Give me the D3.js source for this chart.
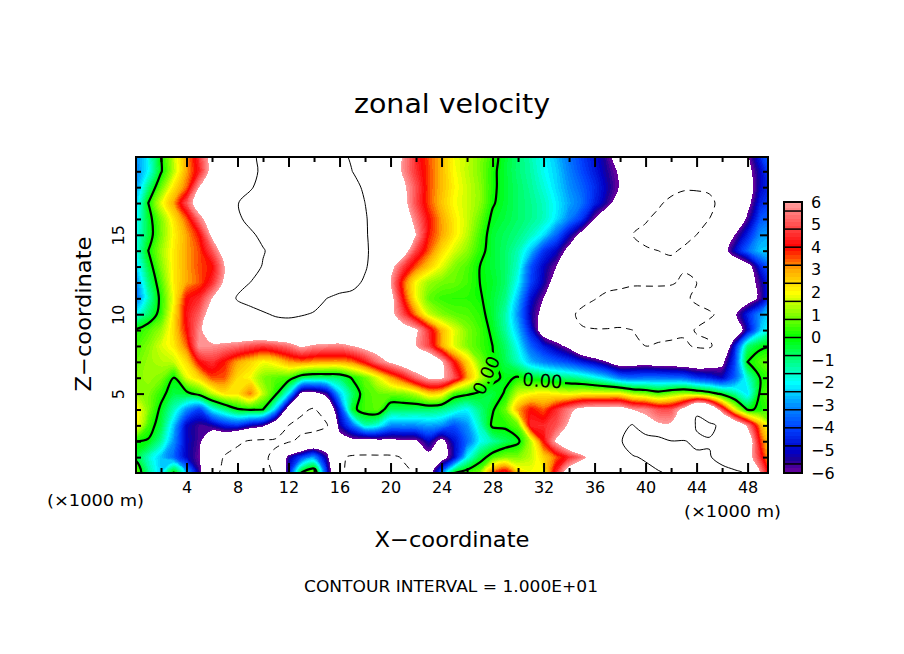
<!DOCTYPE html>
<html>
<head>
	<meta charset="utf-8">
	<title>zonal velocity</title>
	<script src="https://d3js.org/d3.v7.min.js"></script>
	<style>
		html, body { margin: 0; padding: 0; background: #fff; }
		text { font-family: "DejaVu Sans", sans-serif; fill: #000; }
	</style>
</head>
<body>
<script type="text/javascript">

// zonal velocity per height (top row first), one value per km in x from 0 to 50
var z20 = [-3.2,-2,0,1.5,3,4.6,6.6,7.5,8.2,9.5,10.5,11,11.5,12,12,11.5,10.6,9.6,9,8,6.8,5.8,4.4,3.5,2.8,1.9,1.5,1,0.3,-0.4,-0.9,-1.4,-2,-2.6,-3.4,-4.1,-4.8,-5.7,-7,-7.5,-8,-8,-8,-8,-8,-8,-8,-7.5,-6.3,-4.4,-3];
var z19 = [-3.2,-2,-0.1,1.5,3,4.4,6.6,7.6,8.4,9.4,10.4,11.3,12,12.5,12.5,12,11,10,9,8,7,5.8,4.6,3.6,2.8,2,1.5,1,0.2,-0.4,-0.9,-1.3,-1.9,-2.4,-3.2,-3.9,-4.6,-5.4,-6.2,-7.5,-8.2,-8.5,-9,-9,-9,-8.5,-8,-7.5,-6.5,-5,-3.5];
var z18 = [-3,-1,0.8,2.3,3.4,6,7,7.8,8.6,9.7,11,12,13,13.5,13.5,13,12,11,9.5,8.5,7.5,6.3,5,3.6,2.8,2.1,1.6,1.1,0.2,-0.4,-0.8,-1.2,-1.7,-2.3,-3,-3.6,-4.3,-5.2,-6.1,-7.5,-8,-8.5,-9.3,-9.7,-9.7,-9.7,-9,-8,-6.8,-5,-4];
var z17 = [-2.6,0,1.8,3,5,7,8,9,9.9,11,12,13,14,14,14,13.5,12.5,11.5,10,9,8,6.5,4.9,3.6,2.7,2,1.6,1.1,0.1,-0.4,-0.8,-1.1,-1.5,-2.1,-2.8,-3.4,-4.5,-5.5,-7,-8,-9,-9.7,-10.5,-11,-11,-10.4,-9.5,-8.5,-6.5,-4.5,-3.8];
var z16 = [-2.2,-0.4,1,2.3,3.5,5.5,7,8.2,9.5,10.8,12,13,14,14,14,13.5,12.5,11.5,10.2,9,8,7,5.5,4,3,2.2,1.6,0.8,-0.2,-0.5,-0.8,-1.1,-1.5,-2.2,-3.2,-4.2,-6,-7.5,-8.3,-9,-9.8,-10.5,-11,-11,-10.8,-10,-9,-7.8,-5.7,-3.8,-3.5];
var z15 = [-2,-0.5,0.9,2.1,3,4,6.3,7.5,8.5,9.5,10.7,12,13,14,14,13.5,12.5,11.5,10.2,9.2,8.2,7.2,6,3.9,3,2.2,1.5,0.5,-0.4,-0.7,-1,-1.5,-2.2,-3.5,-5,-6.5,-7.5,-8.2,-9,-10,-10.5,-11,-11,-10.7,-10,-9,-8,-6,-4.5,-3,-2.7];
var z14 = [-2,0,1.2,2.2,3,3.6,5,6.8,8,9,9.8,11,12,13,13.5,13,12.5,11.5,10.3,9.2,8.2,6.8,4.8,3.5,2.4,1.7,1.1,0.3,-0.4,-0.8,-1.4,-2.5,-4.2,-5,-6.5,-7.3,-8,-8.5,-9,-9.5,-9.8,-10,-10.3,-9.7,-9,-8,-6.8,-5,-3.5,-2.5,-2.5];
var z13 = [-2.5,-0.5,1,2.2,3,3.6,4,6,7.5,8.7,10.2,11.5,12.5,13,13,12.8,12,11.2,10.3,8.5,6.5,4.8,3.5,2.6,1.8,1,0.6,0,-0.4,-0.8,-1.6,-3.8,-5,-6,-7,-7.5,-8,-8.5,-8.8,-9,-9,-9,-9.3,-9.8,-9.5,-8.5,-8,-7.5,-6.7,-4.5,-3.2];
var z12 = [-3.2,-1,0.6,2.2,3,3.5,4.5,6.3,9,10,10.8,11.5,12,12.5,12.5,12,11.5,10.8,9.6,8,6,3.6,2,1.2,0.9,0.8,0.5,0,-0.3,-0.8,-2,-4,-5.2,-6.7,-7.7,-8.5,-9,-9.3,-9.5,-9.7,-9.7,-9.7,-9.8,-10.3,-10,-9,-8,-7.5,-6.8,-5.5,-3.7];
var z11 = [-3.5,-1.5,0.3,2,4,4.5,6,8,10.3,11,11.5,12,12,11.8,11,10,9.3,9.2,9,8,6.6,4,2,0.8,0.4,0.3,0.3,0.1,-0.4,-1,-2.6,-4.8,-6,-7.5,-8.5,-9.3,-9.9,-10.5,-10.7,-11,-11,-11,-11,-10.3,-9.7,-9,-8.5,-7.8,-6.8,-5.7,-3.5];
var z10 = [-2,-0.8,0.4,2.3,4.2,5.2,6.8,7.6,8.3,9,9.7,10.3,10.5,10.2,9.8,9.5,9,8.7,8.3,7.7,6.5,4.9,3.2,1.6,1,0.7,0.6,0.3,-0.4,-1.3,-3,-5.2,-6.5,-8,-9.5,-10.5,-11,-11,-11,-11,-11,-11,-11,-11,-10.5,-10.3,-9.5,-6.2,-4.5,-3,-2];
var z9 = [0.1,0.6,1.2,2.4,4,5.7,7,7.7,7.8,8,8.3,8.4,8.4,8.3,8.2,8.2,8.2,8,7.8,7.5,7.2,6.8,6.2,4.5,2.8,1.8,1,0.5,-0.2,-1.2,-2.6,-4.6,-7,-7.7,-9,-9.8,-9.9,-9.9,-9.8,-10,-10.5,-10.7,-10.7,-10.4,-9.9,-9.3,-8.5,-7.5,-5,-2.5,-1.4];
var z8 = [0.5,1,1.7,2.2,3.4,5.9,5.8,5.6,5.4,5,4.7,5,5.4,6.2,5.8,5.7,5.6,6,6.5,6.8,7,6.8,6,4.8,3,1.8,1,0.5,0,-0.8,-2,-3.6,-4.6,-5.5,-6.4,-8,-8.7,-9,-9.3,-9.6,-10,-9.8,-9.6,-9.6,-10.3,-10.4,-8.5,-4.6,-0.9,-0.2,-0.1];
var z7 = [0.8,1.2,1.4,1.6,2.4,4.1,4.6,3.9,3,2.5,2,2.3,3,3.3,3.1,3,3,3.3,4.2,5.4,6.2,7,7.5,7.6,6.2,4,2.5,1,0.1,-0.6,-1.5,-2.6,-3.2,-3.6,-4,-4.6,-5.2,-6,-7,-6.8,-6.7,-6.9,-7,-7.1,-7.3,-7,-6.4,-4,0,0.6,0.8];
var z6 = [1,1.2,1,0,1.8,2.5,3.6,3.5,2.4,2,1,0.7,0.5,-0.6,-0.9,-0.9,-0.8,0.1,0.8,1.8,3,4,5.3,6.2,6.2,5,3,1.5,0.3,-0.2,0.1,-0.3,-0.5,-0.8,-1,-1.3,-1.8,-2.4,-3.3,-3.5,-3.4,-3.4,-3.5,-3.6,-4.2,-4.5,-5,-3.6,-1.6,0.05,0.6];
var z5 = [1.2,1,0.3,-0.5,-0.3,0.4,1.5,2.3,2.3,3.3,1.5,0.2,-2,-6.3,-6.5,-5.5,-2.5,-0.8,0.5,0.8,0.9,1,1.5,2.5,2.3,0.5,0.2,-0.2,-0.5,0.1,1.6,2,2.2,2,1.8,2,2,2,2,1.3,1,0.5,1,1.3,1,0.5,-0.3,-1.2,-2.2,0.2,1];
var z4 = [2.2,1,-0.2,-1.5,-3,-4,-2,-1,-0.1,0.1,0,-2.5,-7,-9.5,-10.3,-8,-4.5,-0.3,0.5,0.7,-0.7,-0.7,-0.8,-0.8,-1,-1.5,-2,-1,-0.1,0.8,3,4,3.5,4.5,5.6,6.5,6.8,6.8,6.8,5.9,5.7,5,5,6.5,9.7,8.5,5,2,-0.1,0.1,0.6];
var z3 = [2.2,0.5,-0.5,-2.5,-5,-5.6,-5.3,-4.5,-4.2,-5,-5.6,-7.5,-10,-10.7,-11,-10.3,-5.3,-3.5,-1.4,-1.8,-3,-3,-3,-2.8,-3,-3.8,-3,-1.5,0.2,0.2,0.8,4.5,4.5,5,6.2,8,8.5,9,9.2,10.2,6.6,6.2,6.2,6.1,10.4,10.3,9.7,7.8,5.7,3,1];
var z2 = [0,-0.1,-1.2,-3,-5,-5.7,-7.5,-8,-9.5,-10.3,-10.5,-10.5,-10.3,-9.5,-8.5,-7.5,-7,-6.5,-6.8,-6.5,-6.4,-6.3,-6.2,-5,-6.5,-4.8,-3.5,-2,-1.3,-0.7,-0.2,1.5,4,6.2,8,9,9.2,9.5,9.7,11.5,12.5,11.5,10.1,10.2,9.3,9.9,9.5,8.2,7.3,3.8,1.8];
var z1 = [-0.3,-1.5,-2.5,-3.5,-5,-5.9,-8,-10.3,-11,-11,-10.5,-9.3,-5.5,-4,-3,-5.5,-9.5,-10.4,-10.5,-10.5,-10.5,-9.8,-8,-6.5,-6.8,-5,-2,-0.5,0.5,1,1,1.5,2.5,3.5,4.5,5.5,7,9,9,9.8,10.3,11,11,11,10.6,10.1,9.5,8,6.8,4.5,2];
var z0 = [1,-1.2,-2.5,0.1,-2.5,-5.5,-9,-10.8,-11.5,-11.5,-11,-9.6,-5,0.1,1.2,-4.5,-9.5,-11,-11.5,-11.5,-11.5,-10.5,-9.8,-7,-3.5,0,0.5,1,3.5,4.5,2.5,2,2,4.5,7,8,9,9.5,8.5,8.8,9.3,9.8,10.3,10.5,10.5,10.5,10.5,10.5,9.7,5.8,2.7];

var rows = [z0, z1, z2, z3, z4, z5, z6, z7, z8, z9, z10, z11, z12, z13, z14, z15, z16, z17, z18, z19, z20];

var xMajor = [4, 8, 12, 16, 20, 24, 28, 32, 36, 40, 44, 48];
var xMinor = [2, 6, 10, 14, 18, 22, 26, 30, 34, 38, 42, 46];
var zMajor = [5, 10, 15];
var zMinor = [1, 2, 3, 4, 6, 7, 8, 9, 11, 12, 13, 14, 16, 17, 18, 19];
var barTicks = [-6, -5, -4, -3, -2, -1, 0, 1, 2, 3, 4, 5, 6];

var colorValues = [-6, -5.4, -5, -4, -3, -2, -1, 0, 1, 2, 3, 4, 5, 6];
var colorStops = ["#75009e", "#1c0096", "#0000c8", "#0040ff", "#0090ff", "#00ffff", "#00ff80", "#00ff00", "#80ff00", "#ffff00", "#ffaa00", "#ff0000", "#ff5050", "#ffa0a0"];

var width = 904;
var height = 654;

var xScale = d3.scaleLinear().domain([0, 49.6]).range([135.5, 768]);
var zScale = d3.scaleLinear().domain([0, 19.9]).range([473, 157]);
var color = d3.scaleLinear().domain(colorValues).range(colorStops);
var barScale = d3.scaleLinear().domain([-6, 6]).range([473, 202]);

var nx = rows[0].length;
var nz = rows.length;
var grid = d3.merge(rows);

// rounded outlines: d3.contours puts grid node i at coordinate i + 0.5
var ringLine = d3.line()
	.x(function (p) { return xScale(p[0] - 0.5); })
	.y(function (p) { return zScale(p[1] - 0.5); })
	.curve(d3.curveCatmullRomClosed.alpha(0.5));

function path(d) {
	return d.coordinates.map(function (polygon) {
		return polygon.map(function (ring) { return ringLine(ring.slice(0, -1)); }).join("");
	}).join("");
}

var levels = [-6].concat(d3.range(-37, 38).map(function (i) { return i * 0.16; }));

var svg = d3.select("body").append("svg")
	.attr("width", width)
	.attr("height", height)
	.style("display", "block");

svg.append("defs").append("clipPath").attr("id", "plot")
	.append("rect")
	.attr("x", xScale(0)).attr("y", zScale(19.9))
	.attr("width", xScale(49.6) - xScale(0))
	.attr("height", zScale(0) - zScale(19.9));

var mask = svg.select("defs").append("mask").attr("id", "labelGaps")
	.attr("maskUnits", "userSpaceOnUse")
	.attr("x", 0).attr("y", 0).attr("width", width).attr("height", height);
mask.append("rect").attr("width", width).attr("height", height).attr("fill", "#fff");
mask.append("rect").attr("x", 519).attr("y", 368).attr("width", 46).attr("height", 28).attr("fill", "#000");
mask.append("rect").attr("x", -20).attr("y", -12).attr("width", 42).attr("height", 24)
	.attr("transform", "translate(485,373) rotate(-65)").attr("fill", "#000");

var plot = svg.append("g").attr("clip-path", "url(#plot)");

// filled bands, painted low to high, white above +6 and below -6
plot.selectAll("path.band")
	.data(d3.contours().size([nx, nz]).thresholds(levels)(grid))
	.enter()
		.append("path")
		.attr("class", "band")
		.attr("d", path)
		.attr("fill", function (d) { return color(d.value + 0.08); })
		.attr("shape-rendering", "crispEdges");

plot.selectAll("path.top")
	.data(d3.contours().size([nx, nz]).thresholds([6])(grid))
	.enter()
		.append("path")
		.attr("class", "top")
		.attr("d", path)
		.attr("fill", "#fff")
		.attr("shape-rendering", "crispEdges");

// contour lines, interval 10
plot.selectAll("path.line")
	.data(d3.contours().size([nx, nz]).thresholds([-10, 0, 10])(grid))
	.enter()
		.append("path")
		.attr("class", "line")
		.attr("d", path)
		.attr("fill", "none")
		.attr("stroke", "#000")
		.attr("stroke-width", function (d) { return d.value == 0 ? 2.2 : 1; })
		.attr("stroke-dasharray", function (d) { return d.value < 0 ? "7 5" : null; })
		.attr("mask", function (d) { return d.value == 0 ? "url(#labelGaps)" : null; });

// line labels
svg.append("text").text("0.00")
	.attr("font-size", 18).attr("text-anchor", "middle")
	.attr("transform", "translate(542,387) rotate(4)");
svg.append("text").text("0.00")
	.attr("font-size", 18).attr("text-anchor", "middle")
	.attr("transform", "translate(492,378) rotate(-65)");

// axes: ticks point inward on all four sides
function tickStyle(g) {
	g.select(".domain").remove();
	g.selectAll("line").attr("stroke", "#000").attr("stroke-width", 2);
	g.selectAll("text").attr("font-size", 16).attr("font-family", "DejaVu Sans").attr("fill", "#000");
}

svg.append("g").attr("transform", "translate(0,473)")
	.call(d3.axisBottom(xScale).tickValues(xMajor).tickSize(-10).tickPadding(9).tickFormat(d3.format("d")))
	.call(tickStyle);
svg.append("g").attr("transform", "translate(0,473)")
	.call(d3.axisBottom(xScale).tickValues(xMinor).tickSize(-5).tickFormat(""))
	.call(tickStyle);
svg.append("g").attr("transform", "translate(0,157)")
	.call(d3.axisTop(xScale).tickValues(xMajor).tickSize(-10).tickFormat(""))
	.call(tickStyle);
svg.append("g").attr("transform", "translate(0,157)")
	.call(d3.axisTop(xScale).tickValues(xMinor).tickSize(-5).tickFormat(""))
	.call(tickStyle);

svg.append("g").attr("transform", "translate(136,0)")
	.call(d3.axisLeft(zScale).tickValues(zMajor).tickSize(-8).tickFormat(d3.format("d")))
	.call(tickStyle)
	.selectAll("text")
		.attr("x", null).attr("dy", "0.35em").attr("text-anchor", "middle")
		.attr("transform", "translate(-18,0) rotate(-90)");
svg.append("g").attr("transform", "translate(136,0)")
	.call(d3.axisLeft(zScale).tickValues(zMinor).tickSize(-5).tickFormat(""))
	.call(tickStyle);
svg.append("g").attr("transform", "translate(768,0)")
	.call(d3.axisRight(zScale).tickValues(zMajor).tickSize(-8).tickFormat(""))
	.call(tickStyle);
svg.append("g").attr("transform", "translate(768,0)")
	.call(d3.axisRight(zScale).tickValues(zMinor).tickSize(-5).tickFormat(""))
	.call(tickStyle);

svg.append("rect")
	.attr("x", 136).attr("y", 157).attr("width", 632).attr("height", 316)
	.attr("fill", "none").attr("stroke", "#000").attr("stroke-width", 2);

// colour bar, black lines every 0.8
var bar = svg.append("g");
bar.selectAll("rect")
	.data(levels)
	.enter()
		.append("rect")
		.attr("x", 784).attr("width", 18)
		.attr("y", function (d, i) { return barScale(i + 1 < levels.length ? levels[i + 1] : 6); })
		.attr("height", function (d, i) { return barScale(d) - barScale(i + 1 < levels.length ? levels[i + 1] : 6) + 0.5; })
		.attr("fill", function (d) { return color(d + 0.08); })
		.attr("shape-rendering", "crispEdges");
bar.selectAll("line")
	.data(d3.range(-7, 8).map(function (i) { return i * 0.8; }))
	.enter()
		.append("line")
		.attr("x1", 784).attr("x2", 802)
		.attr("y1", function (d) { return barScale(d); })
		.attr("y2", function (d) { return barScale(d); })
		.attr("stroke", "#000").attr("stroke-width", 1.5);
bar.append("rect")
	.attr("x", 784).attr("y", barScale(6)).attr("width", 18).attr("height", barScale(-6) - barScale(6))
	.attr("fill", "none").attr("stroke", "#000").attr("stroke-width", 2);

svg.append("g").attr("transform", "translate(802,0)")
	.call(d3.axisRight(barScale).tickValues(barTicks).tickSize(0).tickPadding(9).tickFormat(d3.format("d")))
	.call(tickStyle);

// titles and notes
function label(txt, x, y, size, len, rotate) {
	svg.append("text").text(txt)
		.attr("font-size", size)
		.attr("text-anchor", "middle")
		.attr("textLength", len)
		.attr("lengthAdjust", "spacingAndGlyphs")
		.attr("transform", "translate(" + x + "," + y + ")" + (rotate ? " rotate(" + rotate + ")" : ""));
}

label("zonal velocity", 452, 113, 27, 196);
label("X\u2212coordinate", 452, 547, 21, 155);
label("Z\u2212coordinate", 91, 314, 21, 155, -90);
label("(\u00d71000 m)", 95.5, 506, 16, 97);
label("(\u00d71000 m)", 732.5, 517, 16, 97);
label("CONTOUR INTERVAL = 1.000E+01", 451, 592, 16, 294);

</script>
</body>
</html>
